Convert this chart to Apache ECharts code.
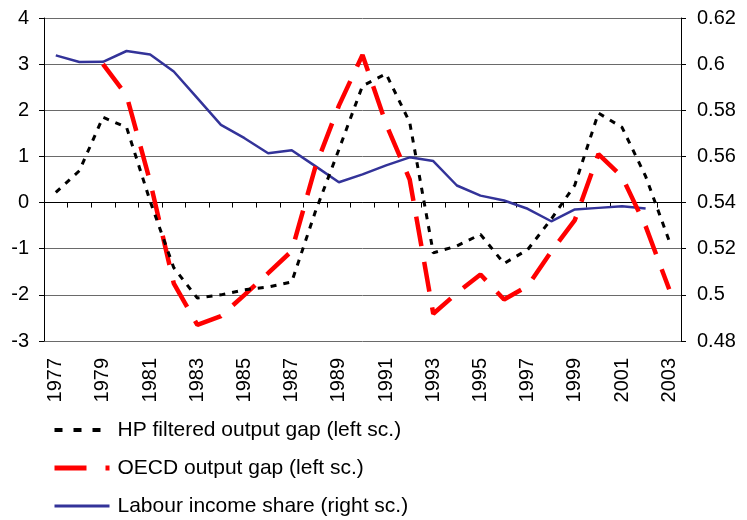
<!DOCTYPE html>
<html>
<head>
<meta charset="utf-8">
<script src="https://cdn.jsdelivr.net/npm/echarts@6/dist/echarts.min.js"></script>
<style>
html,body{margin:0;padding:0;background:#fff;}
#chart{width:747px;height:520px;}
</style>
</head>
<body>
<div id="chart"></div>
<script>
const years = ['1977','1978','1979','1980','1981','1982','1983','1984','1985','1986','1987','1988','1989','1990','1991','1992','1993','1994','1995','1996','1997','1998','1999','2000','2001','2002','2003'];
const hpGap = [0.22, 0.69, 1.85, 1.63, 0.03, -1.41, -2.07, -2.0, -1.89, -1.83, -1.72, -0.2, 1.15, 2.53, 2.79, 1.74, -1.09, -0.94, -0.69, -1.32, -1.02, -0.36, 0.38, 1.94, 1.63, 0.57, -0.83];
const oecdGap = [null, null, 3.0, 2.32, 0.45, -1.75, -2.65, -2.46, -2.0, -1.53, -1.05, 0.77, 2.1, 3.2, 1.7, 0.5, -2.41, -1.96, -1.56, -2.1, -1.81, -1.06, -0.38, 1.05, 0.56, -0.51, -1.88];
const labourShare = [0.6038, 0.6009, 0.601, 0.6057, 0.6042, 0.5968, 0.5853, 0.5737, 0.5679, 0.5614, 0.5627, 0.5558, 0.5488, 0.5522, 0.5561, 0.5596, 0.5580, 0.5474, 0.5430, 0.5409, 0.5373, 0.5319, 0.5370, 0.5377, 0.5384, 0.5374, null];
const seriesNames = ['HP filtered output gap (left sc.)', 'OECD output gap (left sc.)', 'Labour income share (right sc.)'];

const FONT = 'Liberation Sans, Arial, Helvetica, sans-serif';
const chart = echarts.init(document.getElementById('chart'), null, {renderer: 'canvas'});
chart.setOption({
  animation: false,
  backgroundColor: '#fff',
  textStyle: {fontFamily: FONT},
  grid: {left: 44, right: 66, top: 18, bottom: 179, containLabel: false},
  legend: {
    orient: 'vertical',
    left: 52,
    top: 418,
    itemWidth: 55,
    itemHeight: 14,
    itemGap: 14,
    padding: 0,
    textStyle: {fontSize: 21, color: '#000', fontFamily: FONT, lineHeight: 24, padding: [0, 0, 0, 3]},
    data: [
      {name: seriesNames[0], itemStyle: {opacity: 0}, lineStyle: {color: '#000', width: 4, type: [8, 11]}},
      {name: seriesNames[1], itemStyle: {opacity: 0}, lineStyle: {color: '#ff0000', width: 5, type: [32, 19]}},
      {name: seriesNames[2], itemStyle: {opacity: 0}, lineStyle: {color: '#333399', width: 3, type: 'solid'}}
    ]
  },
  xAxis: {
    type: 'category',
    data: years,
    boundaryGap: true,
    axisLine: {show: true, lineStyle: {color: '#000', width: 1}},
    axisTick: {show: true, interval: 0, length: 5, lineStyle: {color: '#000'}},
    axisLabel: {interval: 1, rotate: 90, fontSize: 20, color: '#000', margin: 17, fontFamily: FONT},
    splitLine: {show: false}
  },
  yAxis: [
    {
      type: 'value', min: -3, max: 4, interval: 1, position: 'left',
      axisLine: {show: true, lineStyle: {color: '#000', width: 1}},
      axisTick: {show: true, length: 5, lineStyle: {color: '#000'}},
      axisLabel: {fontSize: 20, color: '#000', margin: 15, fontFamily: FONT},
      splitLine: {show: true, lineStyle: {color: '#6a6a6a', width: 1}}
    },
    {
      type: 'value', min: 0.48, max: 0.62, interval: 0.02, position: 'right',
      axisLine: {show: true, lineStyle: {color: '#000', width: 1}},
      axisTick: {show: true, length: 5, lineStyle: {color: '#000'}},
      axisLabel: {fontSize: 20, color: '#000', margin: 16, fontFamily: FONT},
      splitLine: {show: false}
    }
  ],
  series: [
    {
      name: seriesNames[2], type: 'line', yAxisIndex: 1, data: labourShare,
      symbol: 'none', connectNulls: false, z: 2,
      lineStyle: {color: '#333399', width: 2.5, type: 'solid'},
      itemStyle: {color: '#333399'}
    },
    {
      name: seriesNames[1], type: 'line', yAxisIndex: 0, data: oecdGap,
      symbol: 'none', connectNulls: false, z: 3,
      lineStyle: {color: '#ff0000', width: 4.5, type: [30, 16], cap: 'butt'},
      itemStyle: {color: '#ff0000'}
    },
    {
      name: seriesNames[0], type: 'line', yAxisIndex: 0, data: hpGap,
      symbol: 'none', z: 4,
      lineStyle: {color: '#000', width: 3, type: [6, 7], cap: 'butt'},
      itemStyle: {color: '#000'}
    }
  ]
});
</script>
</body>
</html>
